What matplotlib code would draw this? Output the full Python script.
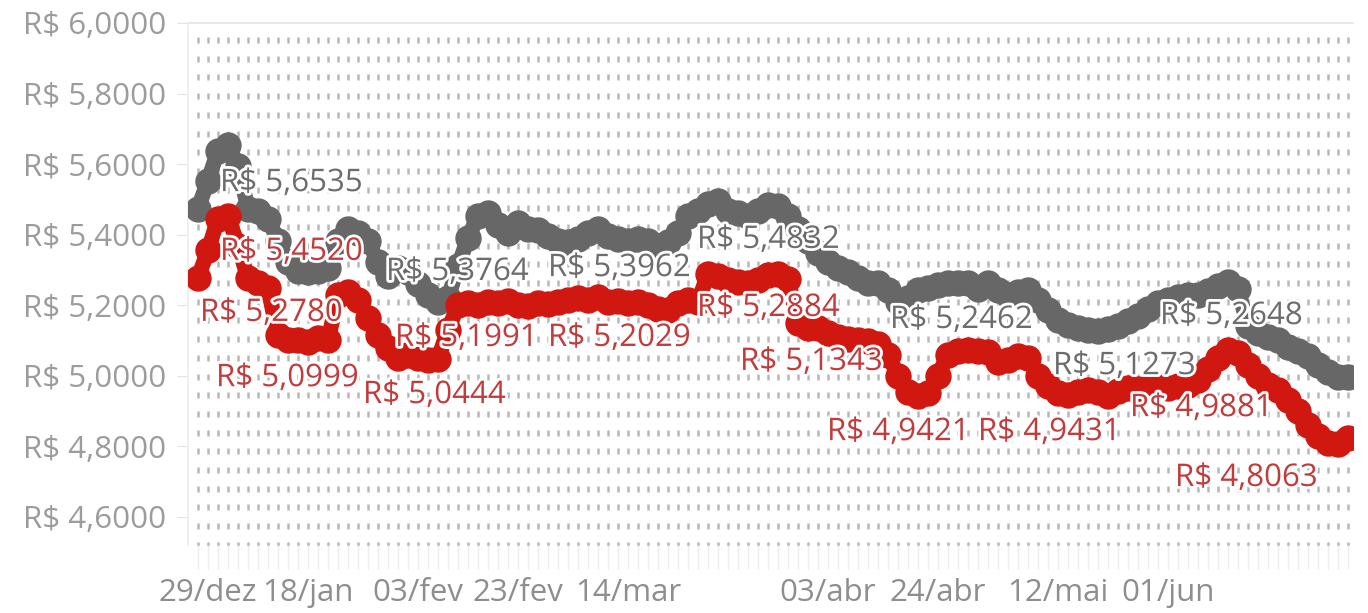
import matplotlib
matplotlib.use("Agg")
import matplotlib.pyplot as plt
import matplotlib.patheffects as pe
from matplotlib.ticker import FuncFormatter
import numpy as np

plt.rcParams['font.family'] = ['Open Sans', 'DejaVu Sans']

# ---------------- data ----------------
date_labels = ["29/dez", "18/jan", "03/fev", "23/fev", "14/mar",
               "03/abr", "24/abr", "12/mai", "01/jun"]
date_ticks = [1, 11, 22, 32, 43, 63, 74, 86, 97]

gray_values = [
    5.474, 5.553, 5.638, 5.6535, 5.595, 5.474, 5.468, 5.445, 5.383, 5.321,
    5.298, 5.293, 5.298, 5.304, 5.383, 5.417, 5.406, 5.383, 5.321, 5.284,
    5.304, 5.293, 5.260, 5.230, 5.210, 5.220, 5.310, 5.390, 5.454, 5.462,
    5.426, 5.406, 5.434, 5.417, 5.412, 5.3962, 5.383, 5.378, 5.389, 5.406,
    5.417, 5.397, 5.389, 5.383, 5.389, 5.383, 5.369, 5.378, 5.406, 5.454,
    5.468, 5.488, 5.496, 5.468, 5.462, 5.454, 5.468, 5.4832, 5.482, 5.454,
    5.417, 5.383, 5.349, 5.321, 5.304, 5.293, 5.276, 5.264, 5.264, 5.242,
    5.208, 5.219, 5.242, 5.248, 5.256, 5.264, 5.262, 5.264, 5.2462, 5.262,
    5.242, 5.228, 5.236, 5.242, 5.214, 5.185, 5.157, 5.143, 5.134, 5.129,
    5.1273, 5.132, 5.140, 5.155, 5.170, 5.190, 5.205, 5.214, 5.222, 5.230,
    5.228, 5.240, 5.255, 5.2648, 5.245, 5.140, 5.120, 5.110, 5.100, 5.080,
    5.070, 5.055, 5.030, 5.010, 4.995, 4.995,
]

red_values = [
    5.278, 5.355, 5.445, 5.452, 5.369, 5.276, 5.264, 5.248, 5.115, 5.100,
    5.0999, 5.095, 5.106, 5.100, 5.228, 5.236, 5.214, 5.163, 5.115, 5.078,
    5.050, 5.058, 5.050, 5.0444, 5.048, 5.130, 5.1991, 5.205, 5.200, 5.210,
    5.205, 5.212, 5.200, 5.198, 5.205, 5.2029, 5.210, 5.215, 5.220, 5.215,
    5.222, 5.210, 5.212, 5.205, 5.210, 5.200, 5.190, 5.185, 5.205, 5.215,
    5.210, 5.2884, 5.282, 5.270, 5.265, 5.262, 5.270, 5.285, 5.288, 5.275,
    5.150, 5.135, 5.1343, 5.120, 5.110, 5.105, 5.100, 5.098, 5.090, 5.060,
    5.000, 4.955, 4.9421, 4.950, 5.000, 5.060, 5.070, 5.072, 5.070, 5.066,
    5.040, 5.045, 5.055, 5.050, 5.000, 4.970, 4.950, 4.945, 4.955, 4.960,
    4.955, 4.9431, 4.958, 4.965, 4.962, 4.965, 4.968, 4.965, 4.970, 4.975,
    4.9881, 5.020, 5.050, 5.072, 5.065, 5.030, 5.000, 4.975, 4.960, 4.930,
    4.900, 4.860, 4.830, 4.810, 4.8063, 4.823,
]

y_ticks = [4.6, 4.8, 5.0, 5.2, 5.4, 5.6, 5.8, 6.0]

gray_label_values = [5.6535, 5.3764, 5.3962, 5.4832, 5.2462, 5.1273, 5.2648]
red_label_values = [5.4520, 5.2780, 5.0999, 5.0444, 5.1991, 5.2029, 5.2884,
                    5.1343, 4.9421, 4.9431, 4.9881, 4.8063]

# label anchor positions (x index, y value) for left/center of text
gray_label_pos = [(2.2, 5.546), (18.8, 5.294), (35.0, 5.305), (49.9, 5.385),
                  (69.2, 5.158), (85.5, 5.027), (96.2, 5.169)]
red_label_pos = [(2.2, 5.351), (0.2, 5.178), (1.8, 4.993), (16.5, 4.945),
                 (19.7, 5.107), (35.0, 5.107), (49.9, 5.192), (54.2, 5.039),
                 (62.9, 4.840), (78.0, 4.840), (93.2, 4.908), (97.7, 4.710)]


def brl(v, pos=None):
    return "R$ " + f"{v:.4f}".replace(".", ",")


# ---------------- figure ----------------
fig = plt.figure(figsize=(13.68, 6.13), dpi=100)
ax = fig.add_axes([0.13743, 0.11093, 0.85161, 0.85155])

xs = np.arange(len(gray_values))
ax.set_xlim(-1, 115.5)
ax.set_ylim(4.52, 6.0)

# dotted texture grid
rows = 1 - np.arange(0.0326, 1.0, 0.03582)
GX, GY = np.meshgrid(xs, rows)
ax.plot(GX.ravel(), GY.ravel(), linestyle='none', marker='|', ms=5, mew=1.8,
        color='#b8b8b8', transform=ax.get_xaxis_transform(), zorder=1)

# series
ax.plot(xs, gray_values, color='#676767', lw=11, marker='o', ms=18,
        solid_joinstyle='round', solid_capstyle='round', zorder=3)
ax.plot(xs, red_values, color='#d01810', lw=11, marker='o', ms=18,
        solid_joinstyle='round', solid_capstyle='round', zorder=4)

halo = [pe.withStroke(linewidth=4, foreground='white')]
for v, (x, y) in zip(gray_label_values, gray_label_pos):
    ax.text(x, y, brl(v), color='#6d6d6d', fontsize=22.5, ha='left', va='center',
            path_effects=halo, zorder=6)
for v, (x, y) in zip(red_label_values, red_label_pos):
    ax.text(x, y, brl(v), color='#c13c3c', fontsize=22.5, ha='left', va='center',
            path_effects=halo, zorder=7)

# axes styling
for s in ['right', 'bottom']:
    ax.spines[s].set_visible(False)
ax.spines['top'].set_color('#e9e9e9')
ax.spines['top'].set_linewidth(1.5)
ax.spines['left'].set_color('#eeeeee')
ax.spines['left'].set_linewidth(1.2)

ax.set_yticks(y_ticks)
ax.yaxis.set_major_formatter(FuncFormatter(brl))
ax.tick_params(axis='y', length=8, color='#e2e2e2', pad=8, labelsize=22.5,
               labelcolor='#9c9c9c')

ax.set_xticks(date_ticks, date_labels)
ax.set_xticks(xs, minor=True)
ax.tick_params(axis='x', which='both', length=17, color='#ececec', width=1,
               pad=7, labelsize=22.5, labelcolor='#8e8e8e')

fig.savefig("out.png", dpi=100, facecolor='white')
